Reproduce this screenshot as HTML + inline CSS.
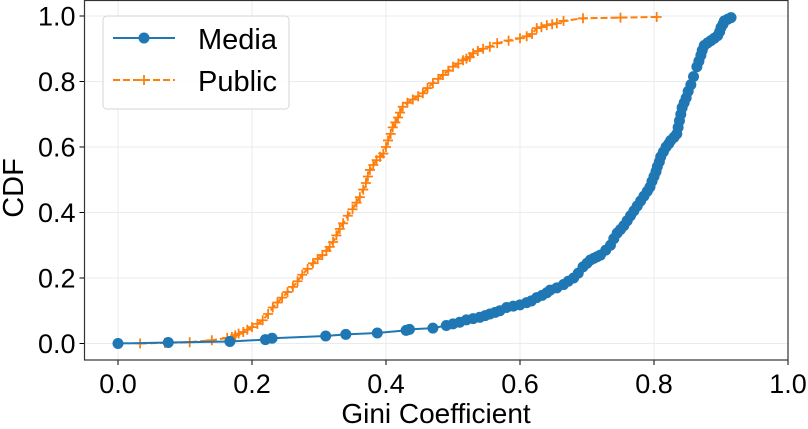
<!DOCTYPE html>
<html><head><meta charset="utf-8"><style>
html,body{margin:0;padding:0;background:#fff;}
svg{display:block;font-family:"Liberation Sans",sans-serif;}
</style></head><body>
<svg id="chart" width="808" height="429"></svg>
<script>
const xTicks=[0.0,0.2,0.4,0.6,0.8,1.0];
const yTicks=[0.0,0.2,0.4,0.6,0.8,1.0];
const mediaX=[0,0.075,0.167,0.22,0.23,0.31,0.34,0.387,0.43,0.435,0.47,0.49,0.5,0.51,0.52,0.53,0.54,0.548,0.555,0.563,0.57,0.58,0.59,0.6,0.61,0.617,0.625,0.633,0.64,0.645,0.655,0.665,0.672,0.68,0.687,0.694,0.7,0.705,0.71,0.715,0.72,0.728,0.735,0.74,0.745,0.75,0.755,0.76,0.765,0.77,0.775,0.78,0.785,0.79,0.794,0.797,0.80,0.803,0.805,0.808,0.81,0.814,0.818,0.822,0.825,0.83,0.834,0.836,0.838,0.84,0.842,0.845,0.848,0.851,0.855,0.859,0.864,0.867,0.87,0.872,0.875,0.88,0.885,0.89,0.895,0.898,0.9,0.903,0.905,0.91,0.915];
const mediaY=[0,0.003,0.006,0.012,0.016,0.023,0.028,0.032,0.04,0.043,0.047,0.055,0.06,0.065,0.072,0.076,0.08,0.085,0.09,0.095,0.1,0.11,0.114,0.118,0.125,0.13,0.14,0.147,0.155,0.163,0.17,0.18,0.19,0.2,0.215,0.234,0.245,0.255,0.26,0.265,0.27,0.285,0.3,0.32,0.337,0.348,0.36,0.375,0.39,0.405,0.42,0.435,0.45,0.465,0.478,0.495,0.51,0.525,0.54,0.555,0.57,0.585,0.6,0.61,0.62,0.63,0.64,0.66,0.68,0.7,0.72,0.735,0.75,0.77,0.79,0.815,0.845,0.862,0.88,0.895,0.91,0.918,0.925,0.932,0.94,0.952,0.965,0.975,0.985,0.99,0.995];
const publicX=[0.033,0.07,0.107,0.14,0.163,0.17,0.175,0.18,0.187,0.193,0.2,0.208,0.216,0.224,0.231,0.238,0.245,0.253,0.261,0.268,0.275,0.283,0.291,0.298,0.305,0.311,0.316,0.321,0.326,0.331,0.336,0.343,0.35,0.356,0.361,0.366,0.37,0.373,0.376,0.381,0.386,0.391,0.396,0.4,0.403,0.407,0.41,0.414,0.418,0.421,0.425,0.432,0.44,0.448,0.455,0.462,0.47,0.478,0.485,0.493,0.5,0.508,0.515,0.52,0.525,0.53,0.537,0.545,0.555,0.566,0.583,0.6,0.61,0.618,0.625,0.632,0.64,0.648,0.655,0.665,0.694,0.75,0.804];
const publicY=[0,0.002,0.004,0.01,0.017,0.02,0.025,0.03,0.035,0.042,0.05,0.06,0.071,0.09,0.11,0.125,0.14,0.157,0.173,0.19,0.21,0.228,0.245,0.258,0.27,0.283,0.295,0.31,0.33,0.35,0.367,0.39,0.41,0.43,0.447,0.47,0.49,0.51,0.53,0.545,0.56,0.57,0.58,0.6,0.62,0.64,0.66,0.675,0.69,0.705,0.723,0.735,0.745,0.755,0.764,0.78,0.795,0.808,0.82,0.833,0.845,0.855,0.865,0.87,0.875,0.886,0.893,0.9,0.906,0.917,0.925,0.932,0.938,0.945,0.963,0.966,0.972,0.975,0.978,0.985,0.993,0.995,0.997];

const NS="http://www.w3.org/2000/svg";
const svg=document.getElementById('chart');
const L=84.5,R=788,T=0.5,B=360;
const xs=v=>118+v*670, ys=v=>343.5-v*327.5;
function mk(tag,attrs,parent){const e=document.createElementNS(NS,tag);for(const k in attrs)e.setAttribute(k,attrs[k]);(parent||svg).appendChild(e);return e;}

const grid=mk('g',{});


xTicks.forEach(t=>{mk('line',{x1:xs(t),x2:xs(t),y1:T,y2:B,stroke:'#ebebeb','stroke-width':1},grid);});
yTicks.forEach(t=>{mk('line',{x1:L,x2:R,y1:ys(t),y2:ys(t),stroke:'#ebebeb','stroke-width':1},grid);});

const xa=mk('g',{});


xTicks.forEach(t=>{mk('line',{x1:xs(t),x2:xs(t),y1:B,y2:B+5,stroke:'#000','stroke-width':1},xa);
 const tx=mk('text',{x:xs(t),y:393,'text-anchor':'middle','font-size':27},xa);tx.textContent=t.toFixed(1);
 
 });
const ya=mk('g',{});


yTicks.forEach(t=>{mk('line',{x1:L-5,x2:L,y1:ys(t),y2:ys(t),stroke:'#000','stroke-width':1},ya);
 const tx=mk('text',{x:L-9,y:ys(t)+9.5,'text-anchor':'end','font-size':27},ya);tx.textContent=t.toFixed(1);
 
 });
const xt=mk('text',{x:436,y:423,'text-anchor':'middle','font-size':28});xt.textContent='Gini Coefficient';


const yt=mk('text',{x:0,y:0,'text-anchor':'middle','font-size':29,transform:'translate(23,188) rotate(-90)'});yt.textContent='CDF';



const pg=mk('g',{});


mk('polyline',{points:publicX.map((v,i)=>xs(v)+','+ys(publicY[i])).join(' '),fill:'none',stroke:'#ff7f0e','stroke-width':2,'stroke-dasharray':'7,3'},pg);
publicX.forEach((v,i)=>{const cx=xs(v),cy=ys(publicY[i]);
 const p=mk('path',{d:`M${cx-5},${cy}H${cx+5}M${cx},${cy-5}V${cy+5}`,stroke:'#ff7f0e','stroke-width':1.8},pg);
 
 });
const mg=mk('g',{});


mk('polyline',{points:mediaX.map((v,i)=>xs(v)+','+ys(mediaY[i])).join(' '),fill:'none',stroke:'#1f77b4','stroke-width':2},mg);
mediaX.forEach((v,i)=>{const c=mk('circle',{cx:xs(v),cy:ys(mediaY[i]),r:5.5,fill:'#1f77b4'},mg);
 
 });

mk('rect',{x:L,y:T,width:R-L,height:B-T,fill:'none',stroke:'#333','stroke-width':1.2});

const lg=mk('g',{});


mk('rect',{x:103,y:16,width:186,height:93,rx:4,fill:'#fff','fill-opacity':0.85,stroke:'#d6d6d6','stroke-width':1},lg);
mk('line',{x1:113,x2:175,y1:38,y2:38,stroke:'#1f77b4','stroke-width':2},lg);
mk('circle',{cx:144,cy:38,r:5.5,fill:'#1f77b4'},lg);
const t1=mk('text',{x:198,y:49,'font-size':29},lg);t1.textContent='Media';


mk('line',{x1:113,x2:175,y1:80,y2:80,stroke:'#ff7f0e','stroke-width':2,'stroke-dasharray':'7,3'},lg);
mk('path',{d:'M139,80H149M144,75V85',stroke:'#ff7f0e','stroke-width':1.8},lg);
const t2=mk('text',{x:198,y:91,'font-size':29},lg);t2.textContent='Public';


</script>
</body></html>
